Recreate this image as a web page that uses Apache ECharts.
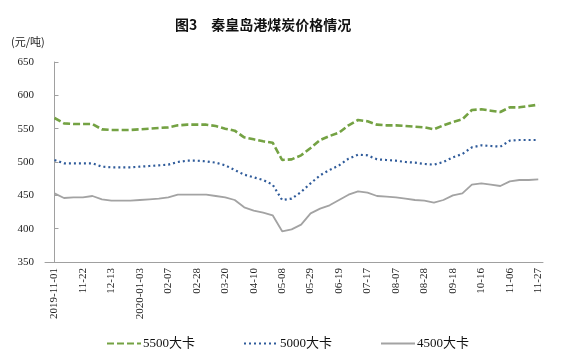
<!DOCTYPE html>
<html>
<head>
<meta charset="utf-8">
<script src="https://cdn.jsdelivr.net/npm/echarts@6/dist/echarts.min.js"></script>
<style>
html,body{margin:0;padding:0;background:#fff;}
#chart{width:583px;height:355px;}
</style>
</head>
<body>
<div id="chart"></div>
<script>
const categories = ['2019-11-01','11-08','11-15','11-22','11-29','12-06','12-13','12-20','12-27','2020-01-03',
  '01-10','01-17','02-07','02-14','02-21','02-28','03-06','03-13','03-20','03-27',
  '04-03','04-10','04-17','04-24','05-08','05-15','05-22','05-29','06-05','06-12',
  '06-19','07-03','07-10','07-17','07-24','07-31','08-07','08-14','08-21','08-28',
  '09-04','09-11','09-18','09-25','10-09','10-16','10-23','10-30','11-06','11-13',
  '11-20','11-27'];
const seriesNames = ['5500大卡','5000大卡','4500大卡'];
const kcal5500 = [566,558,557,557,557,549,548,548,548,549,
  550,551,552,555,556,556,556,554,550,547,
  537,534,531,529,503,504,510,521,533,539,
  544,555,563,561,556,555,555,554,553,552,
  549,555,560,564,578,579,577,575,582,582,
  584,586];
const kcal5000 = [503,498,498,498,498,493,492,492,492,493,
  494,495,496,500,502,502,501,499,495,488,
  481,477,473,466,443,445,455,468,480,488,
  495,505,511,510,504,503,502,500,499,497,
  496,500,507,512,522,525,524,523,532,533,
  533,533];
const kcal4500 = [453,446,447,447,449,444,442,442,442,443,
  444,445,447,451,451,451,451,449,447,443,
  432,427,424,420,396,399,406,423,430,435,
  443,451,456,454,449,448,447,445,443,442,
  439,443,450,453,466,468,466,464,471,473,
  473,474];
const yTicks = [350,400,450,500,550,600,650];
const labelEvery = 3;

const tickIdx = categories.map((c,i)=>i).filter(i=>i % labelEvery === 0);
const toPairs = arr => arr.map((v,i)=>[i,v]);

const chart = echarts.init(document.getElementById('chart'), null, {renderer:'canvas'});
const serif = 'Liberation Serif, "Noto Sans CJK SC", serif';
chart.setOption({
  animation:false,
  backgroundColor:'#fff',
  title:{
    text:'图3\u3000秦皇岛港煤炭价格情况',
    left:170, top:13,
    textStyle:{fontFamily:'"Noto Sans CJK SC", sans-serif', fontSize:14, fontWeight:'bold', color:'#111'}
  },
  graphic:[{
    type:'text', left:11, top:36,
    style:{text:'(元/吨)', font:'11px "Noto Sans CJK SC", sans-serif', fill:'#222'}
  }],
  legend:{
    left:101, top:332, itemWidth:34, itemHeight:12, itemGap:48,
    itemStyle:{opacity:0},
    textStyle:{fontFamily:serif, fontSize:13, color:'#111', padding:[0,0,0,-3]},
    data:seriesNames
  },
  grid:{left:45, right:40, top:62, bottom:93},
  xAxis:{
    type:'value', min:-1, max:51.5,
    splitLine:{show:false},
    axisLine:{show:true, lineStyle:{color:'#a0a0a0', width:1}},
    axisTick:{show:false},
    axisLabel:{
      customValues: tickIdx,
      formatter: v => categories[v] || '',
      rotate:90, margin:6,
      fontFamily:serif, fontSize:11, color:'#222'
    }
  },
  yAxis:{
    type:'value', min:yTicks[0], max:yTicks[yTicks.length-1], interval:50,
    splitLine:{show:false},
    axisLine:{show:true, lineStyle:{color:'#a0a0a0', width:1}},
    axisTick:{show:true, inside:true, length:4, lineStyle:{color:'#a0a0a0'}},
    axisLabel:{margin:11, fontFamily:serif, fontSize:11, color:'#222'}
  },
  series:[
    {name:seriesNames[0], type:'line', data:toPairs(kcal5500), symbol:'none',
     lineStyle:{color:'#74a243', width:2.6, type:[7,3]}, itemStyle:{color:'#74a243'}},
    {name:seriesNames[1], type:'line', data:toPairs(kcal5000), symbol:'none',
     lineStyle:{color:'#2f5b9a', width:2.2, type:[2,3]}, itemStyle:{color:'#2f5b9a'}},
    {name:seriesNames[2], type:'line', data:toPairs(kcal4500), symbol:'none',
     lineStyle:{color:'#a3a3a3', width:1.8, type:'solid'}, itemStyle:{color:'#a3a3a3'}}
  ]
});
</script>
</body>
</html>
